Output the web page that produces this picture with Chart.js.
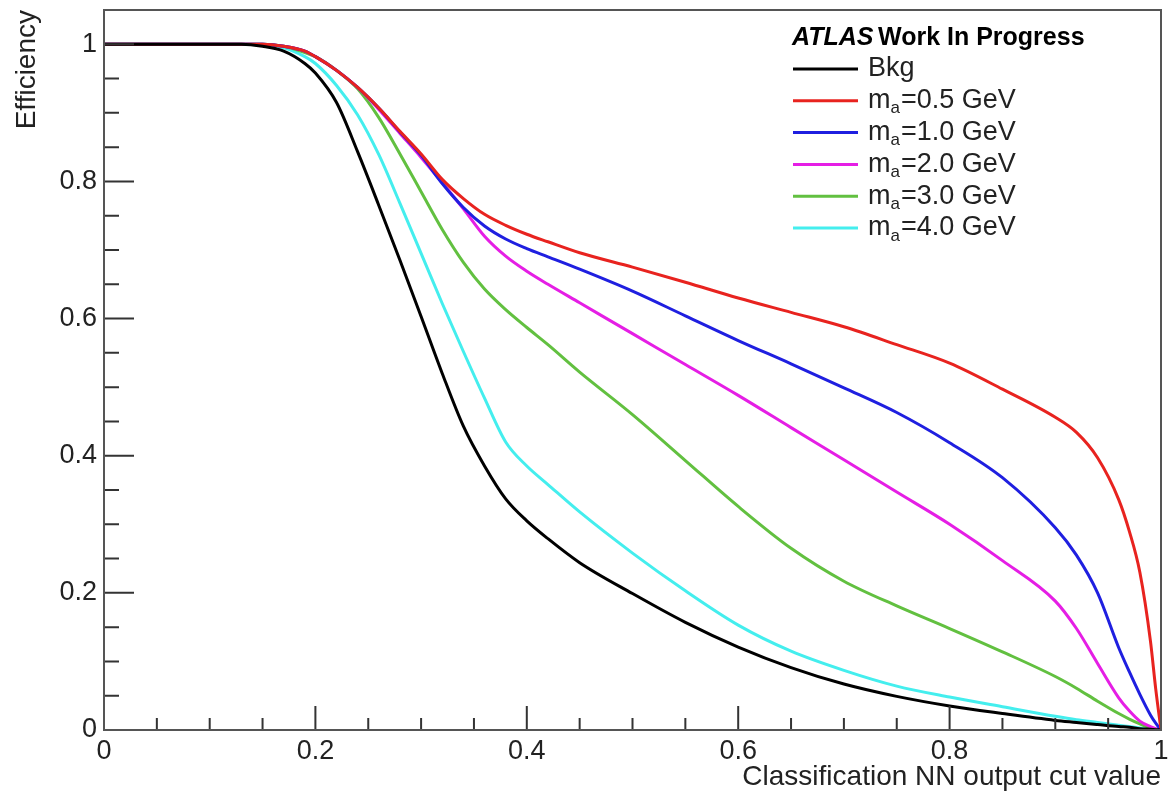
<!DOCTYPE html>
<html>
<head>
<meta charset="utf-8">
<script src="https://cdn.jsdelivr.net/npm/chart.js@4"></script>
<style>
  body { margin: 0; background: #fff; }
  canvas { display: block; }
</style>
</head>
<body>
<canvas id="effChart" width="1168" height="797"></canvas>
<script>
// NN output cut values (x) and efficiencies
const cutValues = [0, 0.05, 0.1, 0.13, 0.15, 0.17, 0.19, 0.2, 0.22, 0.24, 0.26, 0.28, 0.3, 0.32, 0.34, 0.36, 0.38, 0.4, 0.42, 0.45, 0.5, 0.55, 0.6, 0.65, 0.7, 0.75, 0.8, 0.85, 0.9, 0.92, 0.94, 0.96, 0.97, 0.98, 0.99, 0.995, 1.0];

const bkgEff  = [1, 1, 1, 1, 0.997, 0.99, 0.972, 0.958, 0.915, 0.843, 0.765, 0.685, 0.603, 0.52, 0.443, 0.385, 0.337, 0.305, 0.279, 0.244, 0.199, 0.157, 0.121, 0.091, 0.067, 0.049, 0.035, 0.024, 0.014, 0.011, 0.008, 0.005, 0.004, 0.002, 0.001, 0.0005, 0];
const ma05Eff = [1, 1, 1, 1, 1, 0.997, 0.99, 0.982, 0.962, 0.937, 0.907, 0.873, 0.84, 0.803, 0.775, 0.752, 0.736, 0.723, 0.712, 0.696, 0.675, 0.653, 0.63, 0.609, 0.588, 0.562, 0.535, 0.497, 0.456, 0.434, 0.397, 0.336, 0.29, 0.23, 0.13, 0.06, 0];
const ma10Eff = [1, 1, 1, 1, 1, 0.997, 0.99, 0.982, 0.962, 0.937, 0.907, 0.872, 0.838, 0.797, 0.762, 0.735, 0.716, 0.702, 0.69, 0.672, 0.64, 0.604, 0.568, 0.534, 0.499, 0.463, 0.419, 0.368, 0.295, 0.255, 0.2, 0.12, 0.085, 0.052, 0.022, 0.01, 0];
const ma20Eff = [1, 1, 1, 1, 1, 0.997, 0.99, 0.982, 0.962, 0.937, 0.905, 0.87, 0.835, 0.798, 0.76, 0.72, 0.691, 0.669, 0.65, 0.623, 0.578, 0.533, 0.488, 0.441, 0.394, 0.347, 0.3, 0.247, 0.188, 0.148, 0.097, 0.047, 0.028, 0.013, 0.005, 0.002, 0];
const ma30Eff = [1, 1, 1, 1, 1, 0.997, 0.988, 0.982, 0.962, 0.935, 0.893, 0.84, 0.785, 0.73, 0.682, 0.643, 0.613, 0.587, 0.562, 0.522, 0.46, 0.393, 0.326, 0.265, 0.217, 0.181, 0.148, 0.114, 0.078, 0.061, 0.042, 0.024, 0.016, 0.009, 0.003, 0.001, 0];
const ma40Eff = [1, 1, 1, 1, 1, 0.995, 0.982, 0.972, 0.94, 0.897, 0.839, 0.768, 0.695, 0.622, 0.552, 0.484, 0.42, 0.385, 0.358, 0.318, 0.258, 0.203, 0.153, 0.115, 0.087, 0.064, 0.048, 0.034, 0.02, 0.015, 0.011, 0.007, 0.005, 0.003, 0.001, 0.0005, 0];

const seriesLabels = ['Bkg', 'm_a=0.5 GeV', 'm_a=1.0 GeV', 'm_a=2.0 GeV', 'm_a=3.0 GeV', 'm_a=4.0 GeV'];
const seriesValues = [bkgEff, ma05Eff, ma10Eff, ma20Eff, ma30Eff, ma40Eff];
const seriesColors = ['#000000', '#e8231f', '#1f1fe0', '#e51ee5', '#62c040', '#44eeee'];

const FONT = "'Liberation Sans', Arial, Helvetica, sans-serif";
const TEXT_COLOR = '#222';

const isMajor = v => Math.abs(v / 0.2 - Math.round(v / 0.2)) < 1e-6;
const tickLabel = v => isMajor(v) ? String(Number(v.toFixed(2))) : '';

// ROOT-style frame with inward ticks
const frameTicks = {
  id: 'frameTicks',
  afterDraw(chart) {
    const { ctx, chartArea: a, scales: { x, y } } = chart;
    ctx.save();
    ctx.strokeStyle = '#333';
    ctx.lineWidth = 2;
    ctx.beginPath();
    for (let i = 0; i <= 20; i++) {
      const v = i * 0.05;
      const px = x.getPixelForValue(v);
      const len = isMajor(v) ? 24 : 12;
      ctx.moveTo(px, a.bottom);
      ctx.lineTo(px, a.bottom - len);
    }
    for (let i = 0; i <= 21; i++) {
      const v = i * 0.05;
      const py = y.getPixelForValue(v);
      const len = isMajor(v) ? 30 : 15;
      ctx.moveTo(a.left, py);
      ctx.lineTo(a.left + len, py);
    }
    ctx.stroke();
    ctx.strokeStyle = '#555';
    ctx.strokeRect(a.left, a.top, a.right - a.left, a.bottom - a.top);
    ctx.restore();
  }
};

// legend box with ATLAS label and subscripted m_a
const atlasLegend = {
  id: 'atlasLegend',
  afterDraw(chart) {
    const ctx = chart.ctx;
    ctx.save();
    ctx.fillStyle = '#000';
    ctx.textBaseline = 'alphabetic';
    ctx.font = 'italic bold 25px ' + FONT;
    ctx.fillText('ATLAS', 792, 45);
    ctx.font = 'bold 25px ' + FONT;
    ctx.fillText('Work In Progress', 878, 45);

    chart.data.datasets.forEach((ds, i) => {
      const rowY = 69 + i * 31.8;
      ctx.strokeStyle = ds.borderColor;
      ctx.lineWidth = 3;
      ctx.beginPath();
      ctx.moveTo(793, rowY);
      ctx.lineTo(858, rowY);
      ctx.stroke();

      ctx.fillStyle = TEXT_COLOR;
      ctx.textBaseline = 'middle';
      let tx = 868;
      const parts = ds.label.split('_');
      ctx.font = '27px ' + FONT;
      if (parts.length === 1) {
        ctx.fillText(ds.label, tx, rowY);
      } else {
        ctx.fillText(parts[0], tx, rowY);
        tx += ctx.measureText(parts[0]).width;
        const sub = parts[1].charAt(0);
        const rest = parts[1].slice(1);
        ctx.font = '17px ' + FONT;
        ctx.fillText(sub, tx, rowY + 8);
        tx += ctx.measureText(sub).width + 1;
        ctx.font = '27px ' + FONT;
        ctx.fillText(rest, tx, rowY);
      }
    });
    ctx.restore();
  }
};

new Chart(document.getElementById('effChart'), {
  type: 'line',
  data: {
    datasets: seriesLabels.map((label, i) => ({
      label: label,
      data: cutValues.map((c, j) => ({ x: c, y: seriesValues[i][j] })),
      borderColor: seriesColors[i],
      borderWidth: 3,
      pointRadius: 0,
      fill: false,
      cubicInterpolationMode: 'monotone'
    }))
  },
  options: {
    responsive: false,
    animation: false,
    layout: { padding: { top: 10, right: 7, left: 0, bottom: 0 } },
    plugins: { legend: { display: false }, tooltip: { enabled: false } },
    scales: {
      x: {
        type: 'linear',
        min: 0,
        max: 1,
        grid: { display: false, drawTicks: false },
        border: { display: false },
        ticks: {
          stepSize: 0.05,
          autoSkip: false,
          maxRotation: 0,
          padding: 5,
          color: TEXT_COLOR,
          font: { family: FONT, size: 27 },
          callback: v => tickLabel(v)
        },
        title: {
          display: true,
          text: 'Classification NN output cut value',
          align: 'end',
          color: TEXT_COLOR,
          font: { family: FONT, size: 28, lineHeight: 1 },
          padding: { top: 0, bottom: 6 }
        },
        afterFit(scale) {
          scale.height = 67;
          scale.paddingLeft = 0;
          scale.paddingRight = 0;
        }
      },
      y: {
        type: 'linear',
        min: 0,
        max: 1.05,
        grid: { display: false, drawTicks: false },
        border: { display: false },
        ticks: {
          stepSize: 0.05,
          autoSkip: false,
          padding: 7,
          color: TEXT_COLOR,
          font: { family: FONT, size: 27 },
          callback: v => tickLabel(v)
        },
        title: {
          display: true,
          text: 'Efficiency',
          align: 'end',
          color: TEXT_COLOR,
          font: { family: FONT, size: 28, lineHeight: 1 },
          padding: { top: 13, bottom: 0 }
        },
        afterFit(scale) {
          scale.width = 104;
          scale.paddingTop = 0;
          scale.paddingBottom = 0;
        }
      }
    }
  },
  plugins: [frameTicks, atlasLegend]
});
</script>
</body>
</html>
